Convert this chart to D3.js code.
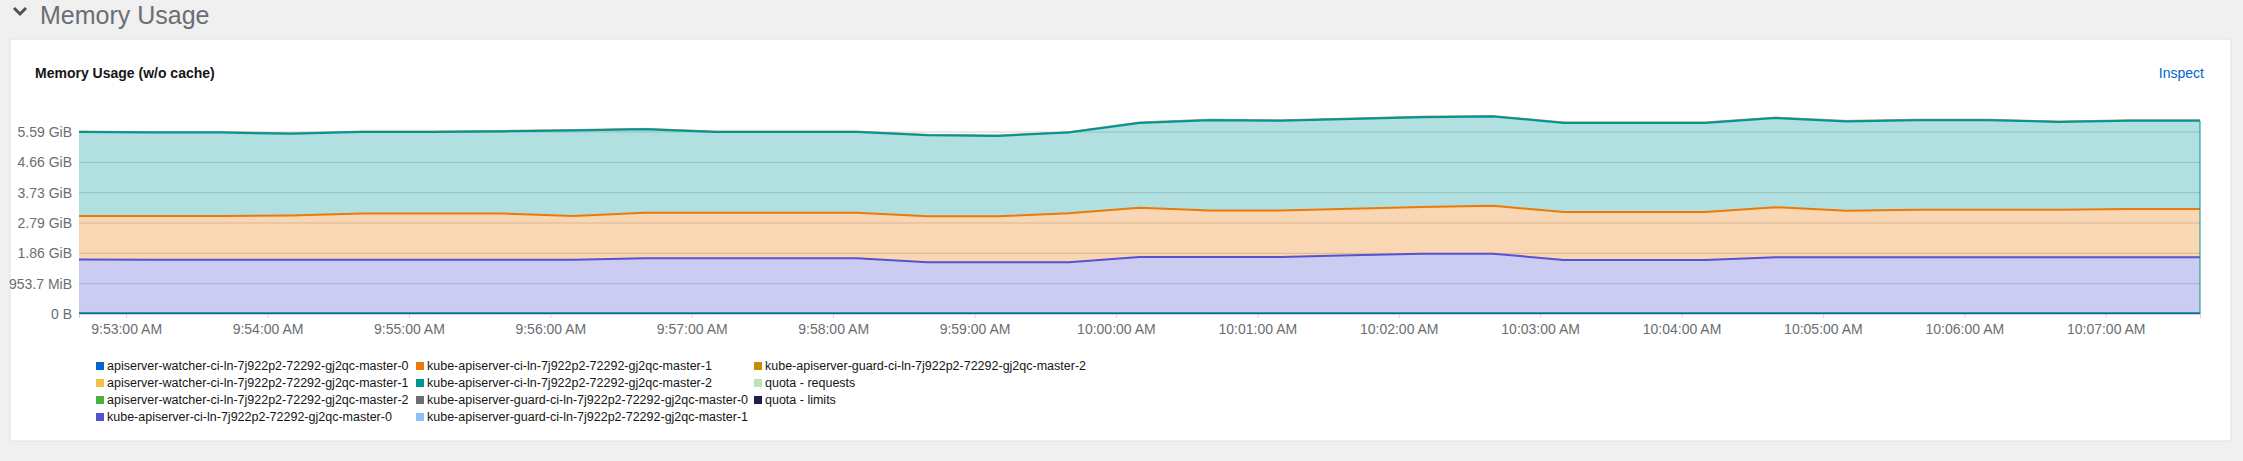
<!DOCTYPE html>
<html>
<head>
<meta charset="utf-8">
<script src="https://cdn.jsdelivr.net/npm/d3@7"></script>
<style>
  body { margin: 0; background: #f0f0f0; font-family: "Liberation Sans Narrow", "Liberation Sans", sans-serif; }
  svg text { font-family: "Liberation Sans Narrow", "Liberation Sans", sans-serif; }
</style>
</head>
<body>
<svg id="chart" width="2243" height="461"></svg>
<script>
// sample times, every 30s
var startTime = new Date(2020, 0, 1, 9, 52, 40);
var times = d3.range(31).map(function(i) { return new Date(+startTime + i * 30000); });

// values in 1e9 bytes
var watcher0 = d3.range(31).map(function() { return 0.015; });
var watcher1 = d3.range(31).map(function() { return 0.015; });
var watcher2 = d3.range(31).map(function() { return 0.02; });
var kube0 = [1.75,1.74,1.74,1.74,1.74,1.74,1.74,1.74,1.79,1.79,1.79,1.79,1.66,1.66,1.66,1.83,1.83,1.83,1.89,1.94,1.94,1.73,1.73,1.73,1.82,1.82,1.82,1.82,1.82,1.82,1.82];
var kube1 = [1.43,1.44,1.44,1.46,1.52,1.52,1.52,1.44,1.50,1.50,1.50,1.50,1.51,1.51,1.61,1.62,1.53,1.53,1.53,1.54,1.58,1.58,1.58,1.58,1.65,1.53,1.57,1.57,1.57,1.59,1.59];
var kube2 = [2.77,2.75,2.75,2.69,2.69,2.69,2.71,2.82,2.75,2.66,2.66,2.66,2.67,2.65,2.66,2.80,2.98,2.96,2.96,2.96,2.94,2.94,2.94,2.94,2.94,2.95,2.95,2.95,2.89,2.91,2.91];
var guard0 = d3.range(31).map(function() { return 0.01; });
var guard1 = d3.range(31).map(function() { return 0.01; });
var guard2 = d3.range(31).map(function() { return 0.01; });

var seriesNames = [
  'apiserver-watcher-ci-ln-7j922p2-72292-gj2qc-master-0',
  'apiserver-watcher-ci-ln-7j922p2-72292-gj2qc-master-1',
  'apiserver-watcher-ci-ln-7j922p2-72292-gj2qc-master-2',
  'kube-apiserver-ci-ln-7j922p2-72292-gj2qc-master-0',
  'kube-apiserver-ci-ln-7j922p2-72292-gj2qc-master-1',
  'kube-apiserver-ci-ln-7j922p2-72292-gj2qc-master-2',
  'kube-apiserver-guard-ci-ln-7j922p2-72292-gj2qc-master-0',
  'kube-apiserver-guard-ci-ln-7j922p2-72292-gj2qc-master-1',
  'kube-apiserver-guard-ci-ln-7j922p2-72292-gj2qc-master-2',
  'quota - requests',
  'quota - limits'
];
var seriesValues = [watcher0, watcher1, watcher2, kube0, kube1, kube2, guard0, guard1, guard2];
var colors = ['#0066cc','#f4c145','#4cb140','#5752d1','#ec7a08','#009596','#6a6e73','#8bc1f7','#c58c00','#bde2b9','#1f1d4e'];
var yTicks = [0, 1e9, 2e9, 3e9, 4e9, 5e9, 6e9];

var svg = d3.select('#chart');

// header
svg.append('path').attr('d', 'M14,8 L20,14 L26,8').attr('fill', 'none')
  .attr('stroke', '#4f5255').attr('stroke-width', 3);
svg.append('text').attr('x', 40).attr('y', 24).attr('font-size', 25)
  .attr('fill', '#6a6e73').text('Memory Usage');

// card
svg.append('rect').attr('x', 10).attr('y', 39).attr('width', 2221).attr('height', 402)
  .attr('fill', '#fff').attr('stroke', '#e0e0e0');
svg.append('text').attr('x', 35).attr('y', 78).attr('font-size', 14).attr('font-weight', 'bold')
  .attr('fill', '#151515').text('Memory Usage (w/o cache)');
svg.append('text').attr('x', 2204).attr('y', 78).attr('font-size', 14).attr('text-anchor', 'end')
  .attr('fill', '#0066cc').text('Inspect');

var left = 79, right = 2200, bottom = 314;
var x = d3.scaleTime().domain([times[0], times[times.length - 1]]).range([left, right]);
var y = d3.scaleLinear().domain([0, 6e9]).range([bottom, 132]);

function fmtBytes(v) {
  if (v === 0) return '0 B';
  var units = ['B','KiB','MiB','GiB','TiB'], i = 0;
  while (v >= 1024 && i < units.length - 1) { v /= 1024; i++; }
  return (v >= 100 ? v.toFixed(1) : v.toFixed(2)) + ' ' + units[i];
}

// grid
svg.append('g').selectAll('line').data(yTicks).join('line')
  .attr('x1', left).attr('x2', right)
  .attr('y1', function(d) { return y(d); }).attr('y2', function(d) { return y(d); })
  .attr('stroke', '#d2d2d2');

// stacked areas
var rows = times.map(function(t, i) {
  var r = { time: t };
  seriesValues.forEach(function(s, k) { r[k] = s[i] * 1e9; });
  return r;
});
var stack = d3.stack().keys(d3.range(seriesValues.length));
var layers = stack(rows);
var area = d3.area().x(function(d) { return x(d.data.time); })
  .y0(function(d) { return y(d[0]); }).y1(function(d) { return y(d[1]); });
var line = d3.line().x(function(d) { return x(d.data.time); }).y(function(d) { return y(d[1]); });

svg.append('g').selectAll('path').data(layers).join('path')
  .attr('d', area).attr('fill', function(d, i) { return colors[i]; }).attr('fill-opacity', 0.3);

// thin series first, main series lines on top
var drawOrder = [8, 7, 6, 2, 1, 3, 4, 5, 0];
svg.append('g').selectAll('path').data(drawOrder).join('path')
  .attr('d', function(k) { return line(layers[k]); }).attr('fill', 'none')
  .attr('stroke', function(k) { return colors[k]; })
  .attr('stroke-width', function(k) { return (k >= 3 && k <= 5) || k === 0 ? 2 : 1; });
// right edge
svg.append('line').attr('x1', right).attr('x2', right).attr('y1', y(0))
  .attr('y2', y(layers[5][times.length - 1][1])).attr('stroke', '#009596');

// axes
var yAxis = svg.append('g').attr('transform', 'translate(' + (left - 4) + ',0)')
  .call(d3.axisLeft(y).tickValues(yTicks).tickFormat(fmtBytes).tickSize(0));
yAxis.select('.domain').remove();
yAxis.selectAll('text').attr('font-size', 14).attr('fill', '#6a6e73');

var xTicks = d3.range(15).map(function(i) { return new Date(2020, 0, 1, 9, 53 + i, 0); });
var xAxis = svg.append('g').attr('transform', 'translate(0,' + bottom + ')')
  .call(d3.axisBottom(x).tickValues(xTicks).tickFormat(d3.timeFormat('%-I:%M:%S %p')).tickSize(4).tickPadding(6));
xAxis.select('.domain').attr('stroke', '#d2d2d2');
xAxis.selectAll('line').attr('stroke', '#d2d2d2');
xAxis.selectAll('text').attr('font-size', 14).attr('fill', '#6a6e73');

// legend
var cols = [96, 416, 754];
var legend = svg.append('g').selectAll('g').data(seriesNames).join('g')
  .attr('transform', function(d, i) {
    var c = i < 4 ? 0 : (i < 8 ? 1 : 2), r = i < 4 ? i : (i < 8 ? i - 4 : i - 8);
    return 'translate(' + cols[c] + ',' + (366 + r * 17) + ')';
  });
legend.append('rect').attr('x', 0).attr('y', -4).attr('width', 8).attr('height', 8)
  .attr('fill', function(d, i) { return colors[i]; });
legend.append('text').attr('x', 11).attr('y', 4).attr('font-size', 12.5).attr('fill', '#151515')
  .text(function(d) { return d; });
</script>
</body>
</html>
